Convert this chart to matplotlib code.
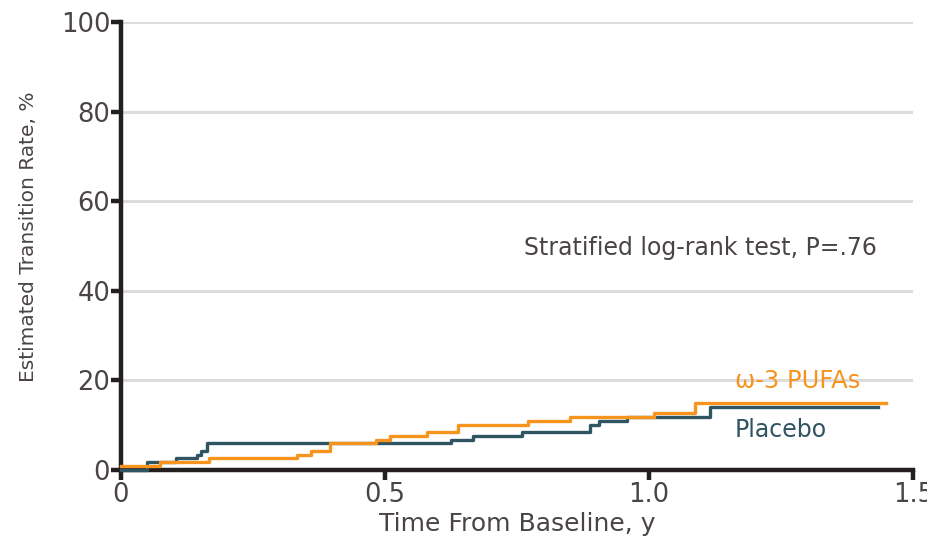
import matplotlib
matplotlib.use("Agg")
import matplotlib.pyplot as plt

# Kaplan-Meier style cumulative transition rates (%) by treatment arm
pufa_t = [0, 0.074, 0.167, 0.334, 0.36, 0.396, 0.483, 0.509, 0.58, 0.639,
          0.771, 0.85, 1.01, 1.087, 1.449]
pufa_rate = [0.9, 1.8, 2.6, 3.4, 4.2, 5.9, 6.6, 7.5, 8.4, 10.0,
             10.8, 11.7, 12.6, 15.0, 15.0]

placebo_t = [0, 0.049, 0.105, 0.144, 0.153, 0.163, 0.625, 0.667, 0.759,
             0.888, 0.905, 0.958, 1.116, 1.433]
placebo_rate = [0, 1.8, 2.6, 3.4, 4.2, 5.9, 6.6, 7.5, 8.4,
                10.0, 10.8, 11.7, 14.1, 14.1]

x_ticks = [0, 0.5, 1.0, 1.5]
x_ticklabels = ["0", "0.5", "1.0", "1.5"]
y_ticks = [0, 20, 40, 60, 80, 100]

text_col = "#4a4444"
orange = "#f7941d"
teal = "#2e5561"

fig = plt.figure(figsize=(9.28, 5.4), dpi=100)
ax = fig.add_axes([0.130, 0.130, 0.854, 0.829])

ax.step(placebo_t, placebo_rate, where="post", color=teal, lw=2.4,
        clip_on=False, zorder=3)
ax.step(pufa_t, pufa_rate, where="post", color=orange, lw=2.4,
        clip_on=False, zorder=4)

ax.set_xlim(0, 1.5)
ax.set_ylim(0, 100)
ax.set_xticks(x_ticks)
ax.set_xticklabels(x_ticklabels)
ax.set_yticks(y_ticks)

ax.yaxis.grid(True, color="#dcdcdc", lw=2.2)
ax.set_axisbelow(True)

for side in ["top", "right"]:
    ax.spines[side].set_visible(False)
for side in ["left", "bottom"]:
    ax.spines[side].set_linewidth(3.2)
    ax.spines[side].set_color("#231f20")
    ax.spines[side].set_zorder(2)

ax.tick_params(axis="both", direction="out", length=7, width=3.2,
               color="#231f20", labelsize=18.5, labelcolor=text_col)
ax.tick_params(axis="y", pad=0.5)
ax.tick_params(axis="x", pad=2)

ax.set_xlabel("Time From Baseline, y", fontsize=18, color=text_col)
ax.xaxis.set_label_coords(0.5, -0.095)
ax.set_ylabel("Estimated Transition Rate, %", fontsize=14.5, color=text_col)
ax.yaxis.set_label_coords(-0.104, 0.52)

ax.text(1.162, 19.9, "ω-3 PUFAs", color=orange, fontsize=17.5,
        ha="left", va="center")
ax.text(1.162, 8.9, "Placebo", color=teal, fontsize=17,
        ha="left", va="center")
ax.text(0.764, 49.6, "Stratified log-rank test, P=.76", color=text_col,
        fontsize=17, ha="left", va="center")

fig.savefig("out.png", dpi=100)
